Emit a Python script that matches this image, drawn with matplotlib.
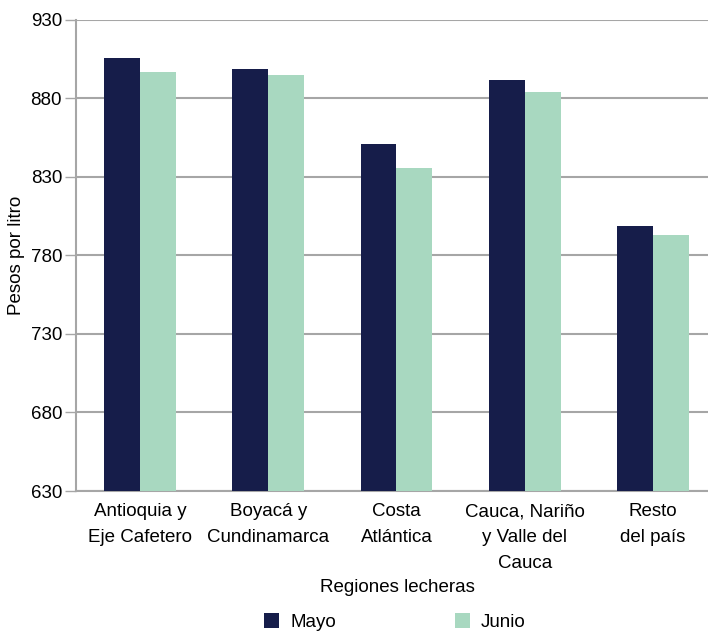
import matplotlib.pyplot as plt
import numpy as np

plt.rcParams['font.family'] = ['Liberation Sans Narrow', 'Liberation Sans', 'DejaVu Sans']

regiones = ["Antioquia y\nEje Cafetero", "Boyacá y\nCundinamarca", "Costa\nAtlántica",
            "Cauca, Nariño\ny Valle del\nCauca", "Resto\ndel país"]
mayo = [905.5, 899, 851, 892, 799]
junio = [897, 895, 836, 884, 793]
yticks = [630, 680, 730, 780, 830, 880, 930]

color_mayo = "#161d4a"
color_junio = "#a8d8c0"
grid_color = "#a6a6a6"
fs = 13.5

fig = plt.figure(figsize=(7.08, 6.31), dpi=100)
ax = fig.add_axes([76 / 708, 1 - 491 / 631, 632 / 708, 471 / 631])

x = np.arange(len(regiones))
w = 0.28
ax.bar(x - w / 2, mayo, w, color=color_mayo, label="Mayo", zorder=3)
ax.bar(x + w / 2, junio, w, color=color_junio, label="Junio", zorder=3)

ax.set_ylim(630, 930)
ax.set_xlim(-0.5, 4.43)
ax.set_yticks(yticks)
ax.yaxis.grid(True, color=grid_color, linewidth=1.5, zorder=0)
ax.tick_params(axis='y', length=8, width=1, color=grid_color, labelsize=fs, pad=2)
ax.tick_params(axis='x', length=0, labelsize=fs, pad=9)
ax.set_xticks(x)
ax.set_xticklabels(regiones)
for t in ax.get_xticklabels():
    t.set_linespacing(1.68)

for s in ["top", "right"]:
    ax.spines[s].set_visible(False)
for s in ["left", "bottom"]:
    ax.spines[s].set_color(grid_color)
    ax.spines[s].set_linewidth(1.5)

ax.set_ylabel("Pesos por litro", fontsize=fs, labelpad=4)
fig.text(397 / 708, 1 - 588 / 631, "Regiones lecheras", ha="center", va="center", fontsize=fs)

fig.legend(loc="center", bbox_to_anchor=(395 / 708, 1 - 622 / 631), ncol=2, frameon=False,
           fontsize=fs, handlelength=0.8, handleheight=0.8, handletextpad=0.6,
           columnspacing=6.3, borderpad=0)

fig.savefig("out.png", dpi=100)
